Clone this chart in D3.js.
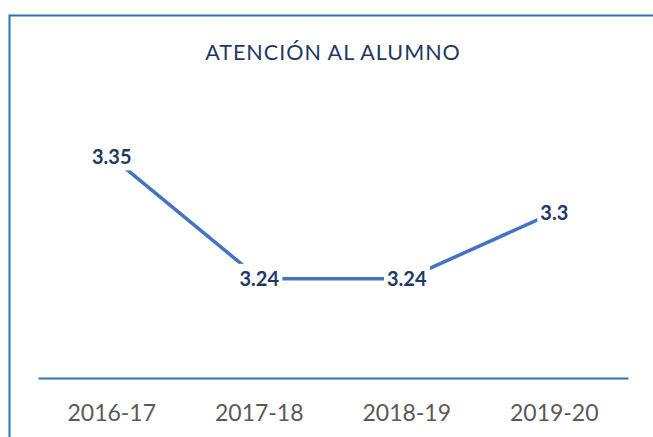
<!DOCTYPE html>
<html>
<head>
<meta charset="utf-8">
<script src="https://cdn.jsdelivr.net/npm/d3@7"></script>
<style>
  body { margin: 0; background: #fff; }
  svg { display: block; }
</style>
</head>
<body>
<div id="wrapper"></div>
<script>
const years = ["2016-17", "2017-18", "2018-19", "2019-20"]
const scores = [3.35, 3.24, 3.24, 3.3]
const title = "ATENCIÓN AL ALUMNO"

const dataset = years.map((y, i) => ({ year: y, value: scores[i] }))

const xAccessor = d => d.year
const yAccessor = d => d.value

let dimensions = {
    width: 653,
    height: 437,
    margin: { top: 102, right: 25, bottom: 59, left: 38 },
}
dimensions.boundedWidth = dimensions.width - dimensions.margin.left - dimensions.margin.right
dimensions.boundedHeight = dimensions.height - dimensions.margin.top - dimensions.margin.bottom

const font = "Lato, 'Open Sans', sans-serif"

const wrapper = d3.select("#wrapper")
    .append("svg")
    .attr("width", dimensions.width)
    .attr("height", dimensions.height)

// chart frame (runs off right and bottom edge)
wrapper.append("rect")
    .attr("x", 9.5)
    .attr("y", 15.5)
    .attr("width", 700)
    .attr("height", 500)
    .attr("fill", "none")
    .attr("stroke", "#2E75B6")
    .attr("stroke-width", 2)

wrapper.append("text")
    .attr("x", dimensions.margin.left + dimensions.boundedWidth / 2)
    .attr("y", 59.5)
    .attr("text-anchor", "middle")
    .attr("font-family", font)
    .attr("font-size", "21.5px")
    .attr("letter-spacing", "1px")
    .attr("fill", "#1F3864")
    .text(title)

const bounds = wrapper.append("g")
    .attr("transform", `translate(${dimensions.margin.left},${dimensions.margin.top})`)

const xScaler = d3.scaleBand()
    .domain(years)
    .range([0, dimensions.boundedWidth])

const yScaler = d3.scaleLinear()
    .domain([3.15, 3.4])
    .range([dimensions.boundedHeight, 0])

const xPos = d => xScaler(xAccessor(d)) + xScaler.bandwidth() / 2

const lineGen = d3.line()
    .x(xPos)
    .y(d => yScaler(yAccessor(d)))

bounds.append("path")
    .datum(dataset)
    .attr("d", lineGen)
    .attr("fill", "none")
    .attr("stroke", "#4472C4")
    .attr("stroke-width", 3.5)

// x axis
const xAxisGen = d3.axisBottom(xScaler).tickSize(0).tickPadding(27)
const xAxis = bounds.append("g")
    .attr("transform", `translate(0,${dimensions.boundedHeight})`)
    .call(xAxisGen)
xAxis.select(".domain").attr("stroke", "#2E75B6").attr("stroke-width", 2)
xAxis.selectAll("text")
    .attr("font-family", font)
    .attr("font-size", "23px")
    .attr("fill", "#595959")

// data labels centred on points with white backing
const labels = bounds.append("g")
    .selectAll("g")
    .data(dataset)
    .enter()
    .append("g")
    .attr("transform", d => `translate(${xPos(d)},${yScaler(yAccessor(d))})`)

labels.append("text")
    .attr("text-anchor", "middle")
    .attr("dy", "0.36em")
    .attr("font-family", font)
    .attr("font-weight", "bold")
    .attr("font-size", "20px")
    .attr("fill", "#1F3864")
    .text(yAccessor)
    .each(function () {
        const b = this.getBBox()
        d3.select(this.parentNode).insert("rect", "text")
            .attr("x", b.x - 3)
            .attr("y", b.y - 2)
            .attr("width", b.width + 6)
            .attr("height", b.height + 4)
            .attr("fill", "#fff")
    })
</script>
</body>
</html>
